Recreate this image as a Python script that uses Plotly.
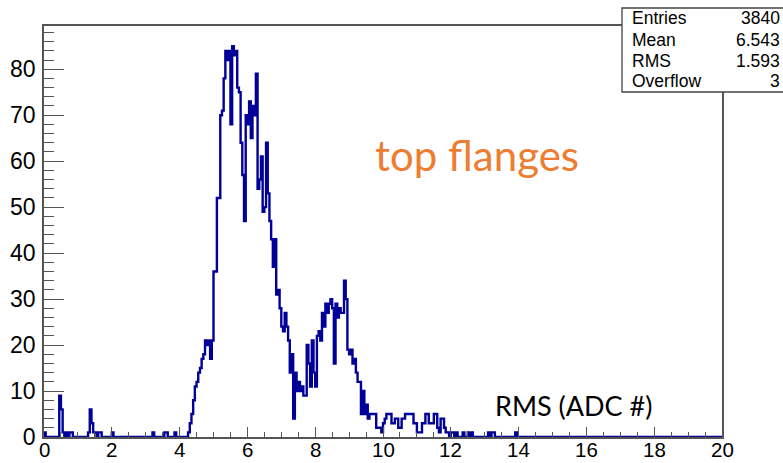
import plotly.graph_objects as go

# Histogram: 400 bins of width 0.05 from 0 to 20 (lower edges)
bin_width = 0.05
x_min = 0.0
x_max = 20.0
counts = [
    # 0.00 - 0.95
    1, 0, 0, 0, 0, 0, 0, 0, 0, 9, 6, 1, 0, 1, 0, 1, 1, 0, 0, 0,
    # 1.00 - 1.95
    0, 0, 0, 0, 0, 0, 1, 6, 3, 1, 1, 0, 1, 1, 0, 0, 0, 0, 0, 0,
    # 2.00 - 2.95
    1, 0, 0, 0, 0, 0, 0, 0, 0, 0, 0, 0, 0, 0, 0, 0, 0, 0, 0, 0,
    # 3.00 - 3.95
    0, 0, 0, 0, 1, 0, 0, 0, 0, 0, 0, 1, 1, 0, 0, 0, 0, 1, 0, 0,
    # 4.00 - 4.95
    0, 0, 0, 0, 0, 1, 3, 5, 8, 11, 12, 14, 15, 17, 18, 21, 20, 21, 17, 21,
    # 5.00 - 5.95
    36, 36, 52, 52, 70, 71, 78, 84, 82, 84, 68, 85, 83, 84, 76, 75, 64, 57, 47, 70,
    # 6.00 - 6.95
    68, 73, 65, 72, 70, 79, 54, 56, 61, 49, 50, 64, 53, 47, 43, 37, 43, 31, 32, 28,
    # 7.00 - 7.95
    24, 23, 27, 24, 21, 14, 18, 4, 14, 10, 12, 10, 11, 9, 9, 20, 16, 11, 21, 14,
    # 8.00 - 8.95
    11, 22, 23, 21, 27, 24, 29, 27, 29, 30, 28, 16, 29, 26, 28, 27, 27, 34, 30, 19,
    # 9.00 - 9.95
    18, 19, 16, 17, 14, 12, 12, 5, 10, 5, 7, 4, 5, 5, 5, 5, 2, 2, 2, 1,
    # 10.00 - 10.95
    3, 4, 5, 5, 5, 3, 3, 4, 4, 2, 2, 4, 4, 5, 5, 5, 5, 5, 3, 3,
    # 11.00 - 11.95
    1, 1, 1, 3, 3, 5, 5, 3, 3, 3, 5, 5, 2, 1, 4, 4, 2, 1, 1, 0,
    # 12.00 - 12.95
    1, 1, 0, 1, 0, 0, 0, 1, 0, 0, 1, 0, 1, 0, 0, 0, 0, 0, 0, 0,
    # 13.00 - 13.95
    0, 0, 1, 0, 1, 1, 0, 0, 0, 0, 0, 0, 0, 0, 0, 0, 0, 0, 1, 0,
    # 14.00 - 14.95
    0, 0, 0, 0, 0, 0, 0, 0, 0, 0, 0, 0, 0, 0, 0, 0, 0, 0, 0, 0,
    # 15.00 - 15.95
    0, 0, 0, 0, 0, 0, 0, 0, 0, 0, 0, 0, 0, 0, 0, 0, 0, 0, 0, 0,
    # 16.00 - 16.95
    0, 0, 0, 0, 0, 0, 0, 0, 0, 0, 0, 0, 0, 0, 0, 0, 0, 0, 0, 0,
    # 17.00 - 17.95
    0, 0, 0, 0, 0, 0, 0, 0, 0, 0, 0, 0, 0, 0, 0, 0, 0, 0, 0, 0,
    # 18.00 - 18.95
    0, 0, 0, 0, 0, 0, 0, 0, 0, 0, 0, 0, 0, 0, 0, 0, 0, 0, 0, 0,
    # 19.00 - 19.95
    0, 0, 0, 0, 0, 0, 0, 0, 0, 0, 0, 0, 0, 0, 0, 0, 0, 0, 0, 0,
]

stat_labels = ["Entries", "Mean", "RMS", "Overflow"]
stat_values = ["3840", "6.543", "1.593", "3"]

x_tick_vals = [0, 2, 4, 6, 8, 10, 12, 14, 16, 18, 20]
x_tick_text = ["0", "2", "4", "6", "8", "10", "12", "14", "16", "18", "20"]
y_tick_vals = [0, 10, 20, 30, 40, 50, 60, 70, 80]

title_text = "top flanges"
x_label = "RMS (ADC #)"

edges = [round(x_min + i * bin_width, 4) for i in range(len(counts) + 1)]
step_x = [x_min] + edges
step_y = [0] + counts + [counts[-1]]

fig = go.Figure()
fig.add_trace(go.Scatter(
    x=step_x, y=step_y, mode="lines",
    line=dict(shape="hv", color="#000099", width=2.4),
    hoverinfo="skip", showlegend=False,
))

axis_color = "#555555"
ytick_font = dict(family="Liberation Sans, Arial, sans-serif", size=23, color="black")
xtick_font = dict(family="Liberation Sans, Arial, sans-serif", size=20.5, color="black")

fig.update_xaxes(
    range=[x_min, x_max], tickvals=x_tick_vals, ticks="inside", ticklen=10,
    tickwidth=1.3, tickcolor=axis_color, showline=True, linecolor=axis_color,
    linewidth=1.5, mirror=True, showgrid=False, zeroline=False,
    showticklabels=False, automargin=False,
    minor=dict(ticks="inside", ticklen=5, dtick=0.5, tickcolor=axis_color,
               tickwidth=1.2, showgrid=False),
)
fig.update_yaxes(
    range=[0, 89.4], tickvals=y_tick_vals, ticks="inside", ticklen=20,
    tickwidth=1.3, tickcolor=axis_color, showline=True, linecolor=axis_color,
    linewidth=1.5, mirror=True, showgrid=False, zeroline=False,
    tickfont=ytick_font, ticklabelstandoff=2, automargin=False,
    minor=dict(ticks="inside", ticklen=10, dtick=2, tickcolor=axis_color,
               tickwidth=1.2, showgrid=False),
)

# X tick labels placed just under the axis
for xv, xt in zip(x_tick_vals, x_tick_text):
    fig.add_annotation(x=xv, y=0, xref="x", yref="paper", text=xt,
                       showarrow=False, xanchor="center", yanchor="top",
                       yshift=0, borderpad=0, font=xtick_font)

# Stats box
fig.add_shape(type="rect", xref="paper", yref="paper",
              x0=0.8525, x1=1.12, y0=0.8394, y1=1.0438,
              line=dict(color="#444444", width=1.3), fillcolor="white",
              layer="above")
row_y = [1.0195, 0.966, 0.915, 0.866]
stat_font = dict(family="Liberation Sans, Arial, sans-serif", size=17.5, color="black")
for lab, val, yy in zip(stat_labels, stat_values, row_y):
    fig.add_annotation(x=0.8643, y=yy, xref="paper", yref="paper", text=lab,
                       showarrow=False, xanchor="left", yanchor="middle",
                       font=stat_font)
    fig.add_annotation(x=1.089, y=yy, xref="paper", yref="paper", text=val,
                       showarrow=False, xanchor="right", yanchor="middle",
                       font=stat_font)

fig.add_annotation(x=(477 - 44) / 678, y=(437 - 155) / 411, xref="paper", yref="paper",
                   text=title_text, showarrow=False, xanchor="center", yanchor="middle",
                   font=dict(family="Lato, Open Sans, sans-serif", size=42, color="#ED7D31"))
fig.add_annotation(x=(573 - 44) / 678, y=(437 - 405) / 411, xref="paper", yref="paper",
                   text=x_label, showarrow=False, xanchor="center", yanchor="middle",
                   font=dict(family="Lato, Open Sans, sans-serif", size=27, color="black"))

fig.update_layout(
    width=783, height=463,
    margin=dict(l=44, r=61, t=26, b=26),
    paper_bgcolor="white", plot_bgcolor="white",
)

fig.write_html("out.html")
